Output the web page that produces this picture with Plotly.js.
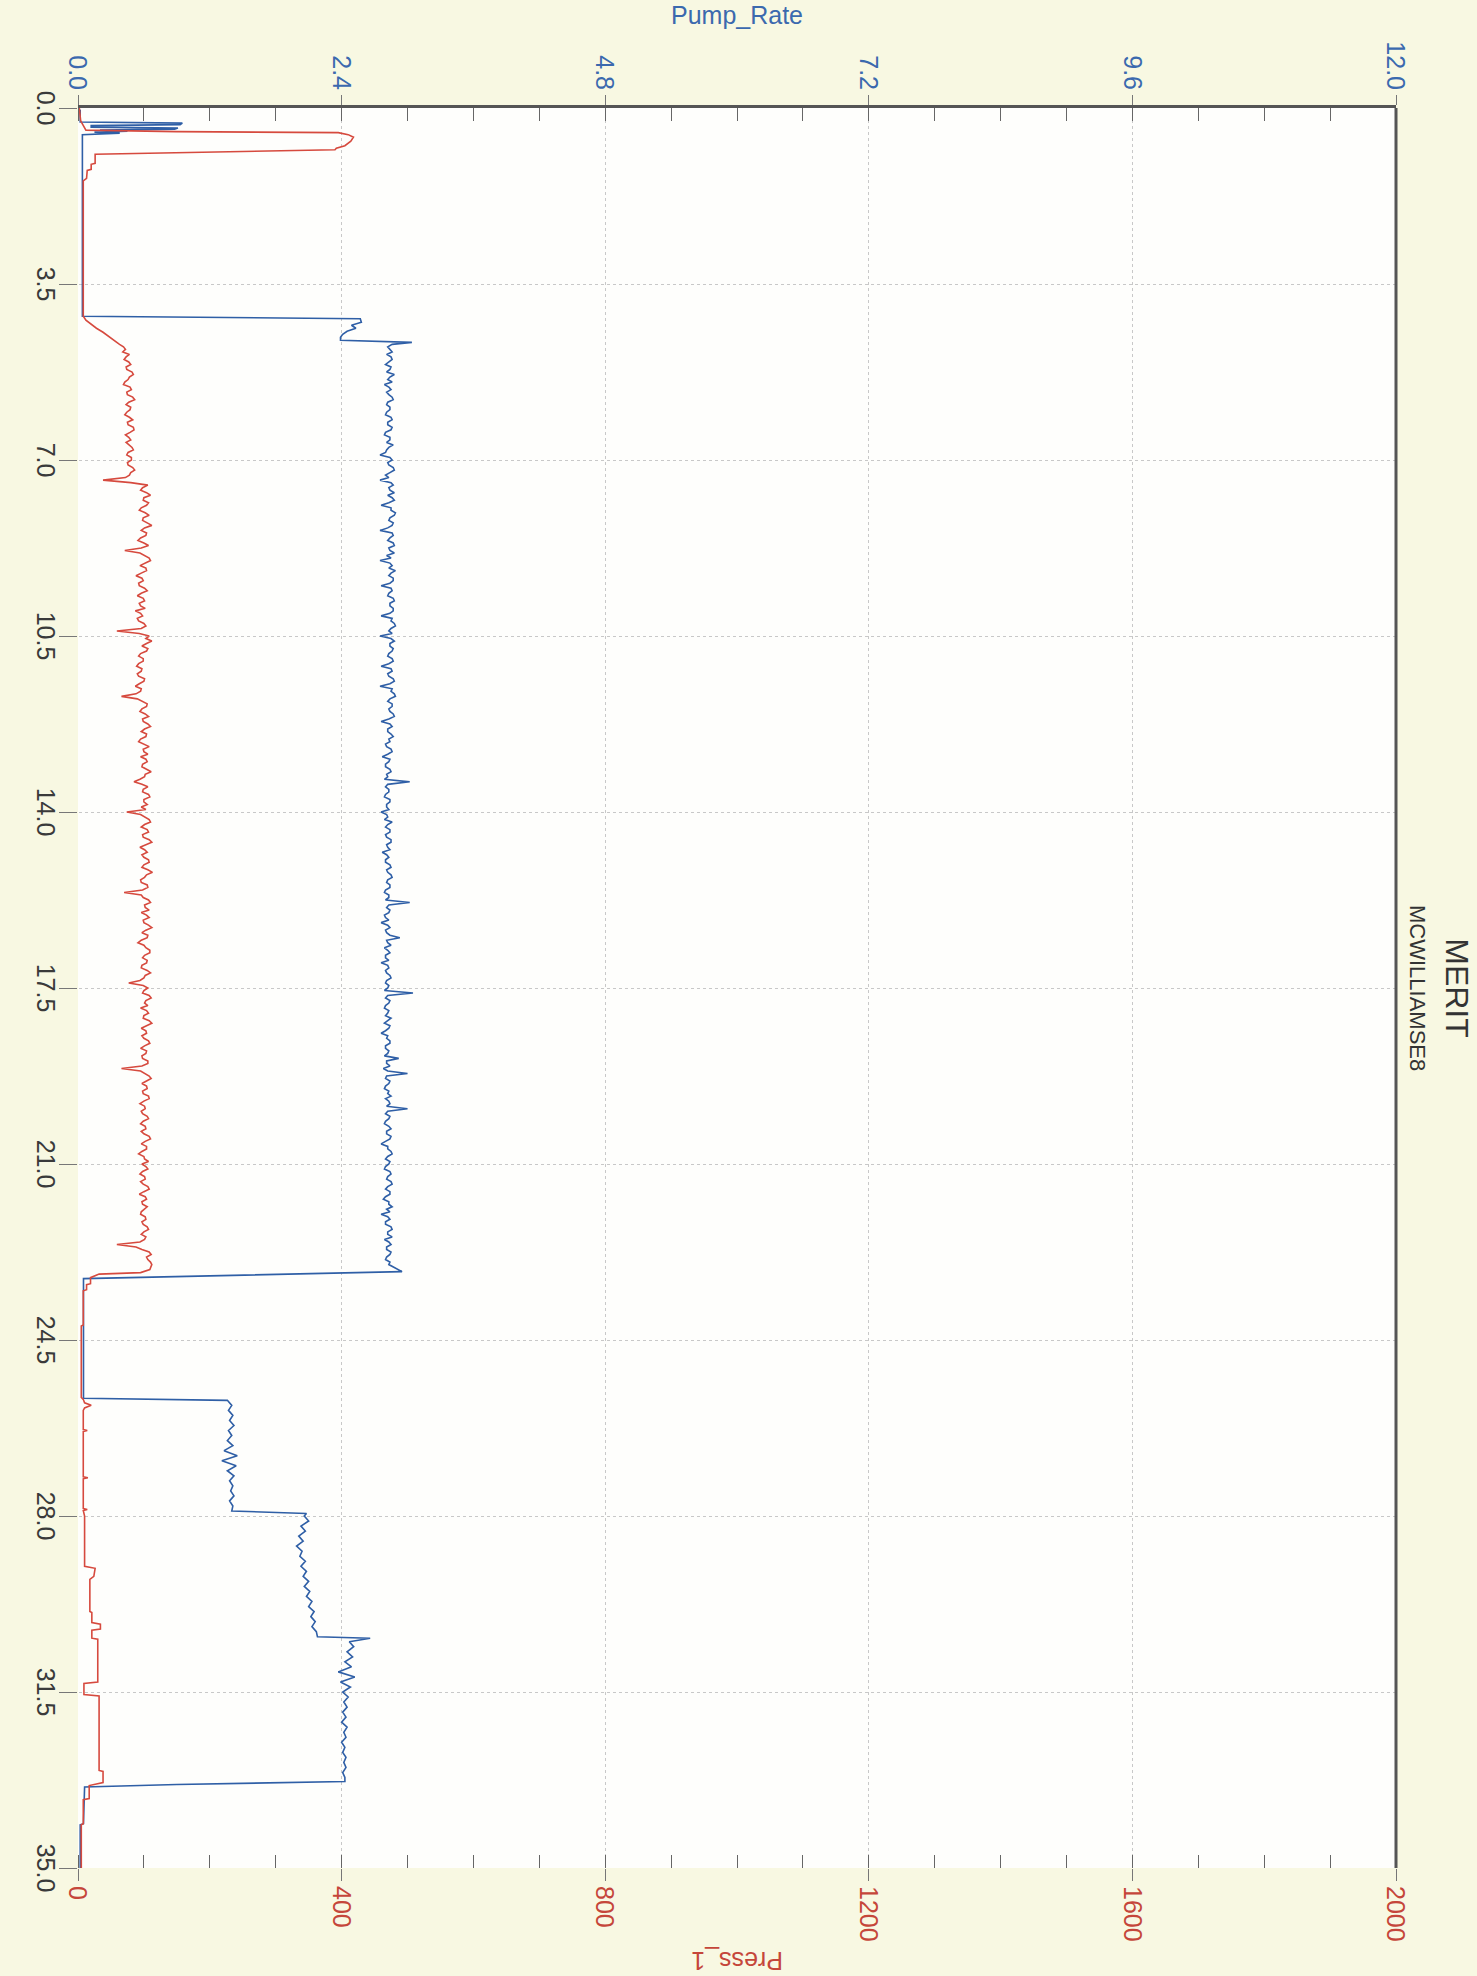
<!DOCTYPE html>
<html>
<head>
<meta charset="utf-8">
<script src="https://cdn.plot.ly/plotly-3.0.1.min.js"></script>
<style>
  html, body { margin:0; padding:0; width:1477px; height:1976px; overflow:hidden; background:#f8f8e2; }
  #wrap { position:absolute; left:0; top:0; width:1976px; height:1477px;
          transform-origin:0 0; transform:translate(1477px,0) rotate(90deg); }
</style>
</head>
<body>
<div id="wrap"><div id="chart"></div></div>
<script>
// ---------------- data ----------------
const timeTicks = [0,3.5,7,10.5,14,17.5,21,24.5,28,31.5,35];
const pumpTicks = [0,2.4,4.8,7.2,9.6,12];
const pressTicks = [0,400,800,1200,1600,2000];

// sampling grid of the long pumping stage (hours)
const gridTime = [4.80,4.85,4.90,4.95,
 5.00,5.05,5.10,5.15,5.20,5.25,5.30,5.35,5.40,5.45,5.50,5.55,5.60,5.65,5.70,5.75,5.80,5.85,5.90,5.95,
 6.00,6.05,6.10,6.15,6.20,6.25,6.30,6.35,6.40,6.45,6.50,6.55,6.60,6.65,6.70,6.75,6.80,6.85,6.90,6.95,
 7.00,7.05,7.10,7.15,7.20,7.25,7.30,7.35,7.40,7.45,7.50,7.55,7.60,7.65,7.70,7.75,7.80,7.85,7.90,7.95,
 8.00,8.05,8.10,8.15,8.20,8.25,8.30,8.35,8.40,8.45,8.50,8.55,8.60,8.65,8.70,8.75,8.80,8.85,8.90,8.95,
 9.00,9.05,9.10,9.15,9.20,9.25,9.30,9.35,9.40,9.45,9.50,9.55,9.60,9.65,9.70,9.75,9.80,9.85,9.90,9.95,
 10.00,10.05,10.10,10.15,10.20,10.25,10.30,10.35,10.40,10.45,10.50,10.55,10.60,10.65,10.70,10.75,10.80,10.85,10.90,10.95,
 11.00,11.05,11.10,11.15,11.20,11.25,11.30,11.35,11.40,11.45,11.50,11.55,11.60,11.65,11.70,11.75,11.80,11.85,11.90,11.95,
 12.00,12.05,12.10,12.15,12.20,12.25,12.30,12.35,12.40,12.45,12.50,12.55,12.60,12.65,12.70,12.75,12.80,12.85,12.90,12.95,
 13.00,13.05,13.10,13.15,13.20,13.25,13.30,13.35,13.40,13.45,13.50,13.55,13.60,13.65,13.70,13.75,13.80,13.85,13.90,13.95,
 14.00,14.05,14.10,14.15,14.20,14.25,14.30,14.35,14.40,14.45,14.50,14.55,14.60,14.65,14.70,14.75,14.80,14.85,14.90,14.95,
 15.00,15.05,15.10,15.15,15.20,15.25,15.30,15.35,15.40,15.45,15.50,15.55,15.60,15.65,15.70,15.75,15.80,15.85,15.90,15.95,
 16.00,16.05,16.10,16.15,16.20,16.25,16.30,16.35,16.40,16.45,16.50,16.55,16.60,16.65,16.70,16.75,16.80,16.85,16.90,16.95,
 17.00,17.05,17.10,17.15,17.20,17.25,17.30,17.35,17.40,17.45,17.50,17.55,17.60,17.65,17.70,17.75,17.80,17.85,17.90,17.95,
 18.00,18.05,18.10,18.15,18.20,18.25,18.30,18.35,18.40,18.45,18.50,18.55,18.60,18.65,18.70,18.75,18.80,18.85,18.90,18.95,
 19.00,19.05,19.10,19.15,19.20,19.25,19.30,19.35,19.40,19.45,19.50,19.55,19.60,19.65,19.70,19.75,19.80,19.85,19.90,19.95,
 20.00,20.05,20.10,20.15,20.20,20.25,20.30,20.35,20.40,20.45,20.50,20.55,20.60,20.65,20.70,20.75,20.80,20.85,20.90,20.95,
 21.00,21.05,21.10,21.15,21.20,21.25,21.30,21.35,21.40,21.45,21.50,21.55,21.60,21.65,21.70,21.75,21.80,21.85,21.90,21.95,
 22.00,22.05,22.10,22.15,22.20,22.25,22.30,22.35,22.40,22.45,22.50,22.55,22.60,22.65,22.70,22.75,22.80,22.85,22.90,22.95,
 23.00];

// Pump_Rate (blue)
const pumpHeadTime = [0,0.05,0.28,0.30,0.33,0.35,0.38,0.40,0.42,0.44,0.46,0.48,0.50,0.53,0.56,4.14,4.19,4.26,4.32,4.38,4.44,4.50,4.56,4.62,4.66,4.70,4.75];
const pumpHead     = [0.00,0.02,0.02,0.95,0.93,0.12,0.12,0.91,0.88,0.20,0.45,0.15,0.38,0.04,0.04,0.04,2.57,2.58,2.49,2.53,2.45,2.41,2.39,2.39,3.04,2.86,2.82];
const pumpMain = [2.84,2.86,2.81,2.85,
 2.86,2.83,2.80,2.85,2.84,2.81,2.88,2.84,2.82,2.86,2.79,2.83,2.85,2.81,2.83,2.86,2.87,2.82,2.81,2.84,
 2.84,2.81,2.80,2.85,2.86,2.82,2.82,2.86,2.85,2.80,2.79,2.84,2.84,2.81,2.87,2.83,2.81,2.80,2.75,2.84,
 2.86,2.82,2.83,2.87,2.88,2.84,2.80,2.83,2.75,2.85,2.87,2.83,2.84,2.88,2.82,2.86,2.88,2.83,2.76,2.85,
 2.85,2.89,2.88,2.84,2.83,2.87,2.86,2.82,2.75,2.86,2.87,2.84,2.82,2.87,2.88,2.83,2.84,2.88,2.81,2.85,
 2.75,2.84,2.86,2.83,2.89,2.85,2.83,2.87,2.87,2.84,2.76,2.85,2.86,2.83,2.82,2.87,2.88,2.84,2.84,2.87,
 2.87,2.84,2.76,2.86,2.85,2.88,2.89,2.85,2.83,2.86,2.75,2.85,2.88,2.84,2.84,2.87,2.86,2.83,2.82,2.86,
 2.87,2.83,2.76,2.85,2.86,2.82,2.83,2.87,2.88,2.84,2.75,2.86,2.85,2.88,2.89,2.84,2.82,2.86,2.86,2.83,
 2.84,2.87,2.88,2.83,2.76,2.84,2.86,2.82,2.82,2.85,2.87,2.83,2.84,2.80,2.81,2.85,2.86,2.82,2.77,2.84,
 2.83,2.80,2.80,2.84,2.85,2.81,2.82,2.79,3.02,2.82,2.80,2.83,2.83,2.80,2.79,2.84,2.84,2.81,2.81,2.83,
 2.76,2.81,2.82,2.79,2.86,2.82,2.80,2.84,2.84,2.80,2.81,2.85,2.85,2.81,2.82,2.84,2.77,2.81,2.83,2.80,
 2.80,2.84,2.85,2.81,2.82,2.85,2.86,2.82,2.81,2.84,2.84,2.80,2.79,2.83,2.83,2.80,3.02,2.83,2.81,2.84,
 2.83,2.79,2.80,2.83,2.76,2.82,2.84,2.80,2.81,2.84,2.93,2.81,2.82,2.85,2.79,2.82,2.84,2.80,2.80,2.83,
 2.76,2.82,2.83,2.80,2.81,2.84,2.85,2.81,2.80,2.83,2.82,2.79,3.05,2.82,2.80,2.84,2.83,2.80,2.79,2.83,
 2.82,2.80,2.85,2.82,2.79,2.84,2.83,2.80,2.76,2.82,2.81,2.84,2.84,2.80,2.80,2.83,2.82,2.79,2.92,2.81,
 2.81,2.84,2.78,2.82,3.00,2.81,2.80,2.84,2.83,2.80,2.79,2.83,2.82,2.85,2.80,2.83,2.84,2.81,3.00,2.82,
 2.80,2.84,2.83,2.80,2.79,2.83,2.85,2.81,2.81,2.85,2.84,2.80,2.76,2.82,2.82,2.85,2.86,2.82,2.80,2.84,
 2.83,2.80,2.79,2.84,2.85,2.82,2.81,2.85,2.86,2.82,2.80,2.84,2.84,2.80,2.78,2.83,2.83,2.86,2.81,2.84,
 2.76,2.82,2.84,2.80,2.80,2.85,2.86,2.82,2.82,2.86,2.79,2.83,2.85,2.81,2.81,2.85,2.84,2.81,2.80,2.84,
 2.83];
const pumpTailTime = [23.14,23.28,25.66,25.70,
 25.8,25.9,26.0,26.1,26.2,26.3,26.4,26.5,26.6,26.7,26.8,26.9,27.0,27.1,27.2,27.3,27.4,27.5,27.6,27.7,27.8,27.9,
 27.95,
 28.0,28.1,28.2,28.3,28.4,28.5,28.6,28.7,28.8,28.9,29.0,29.1,29.2,29.3,29.4,29.5,29.6,29.7,29.8,29.9,30.0,30.1,30.2,30.3,30.4,
 30.43,
 30.5,30.6,30.7,30.8,30.9,31.0,31.1,31.2,31.3,31.4,31.5,31.6,31.7,31.8,31.9,32.0,32.1,32.2,32.3,32.4,32.5,32.6,32.7,32.8,32.9,33.0,33.1,33.2,
 33.28,33.34,33.39,34.12,34.14,35.0];
const pumpTail = [2.95,0.05,0.05,1.36,
 1.40,1.37,1.41,1.38,1.42,1.37,1.40,1.36,1.41,1.33,1.45,1.31,1.44,1.36,1.42,1.38,1.41,1.39,1.42,1.38,1.41,1.40,
 2.08,
 2.06,2.10,2.03,2.07,2.01,2.05,1.99,2.04,2.02,2.07,2.03,2.08,2.05,2.10,2.06,2.11,2.08,2.13,2.10,2.15,2.12,2.16,2.13,2.17,2.18,
 2.66,
 2.47,2.51,2.45,2.50,2.43,2.49,2.37,2.52,2.39,2.48,2.41,2.46,2.42,2.45,2.41,2.44,2.40,2.45,2.42,2.44,2.40,2.43,2.41,2.44,2.42,2.44,2.41,2.43,
 2.43,0.90,0.06,0.05,0.02,0.02];

// Press_1 (red)
const pressHeadTime = [0,0.25,0.30,0.40,0.44,0.47,0.49,0.53,0.58,0.66,0.75,0.80,0.83,0.92,1.10,1.12,1.22,1.24,1.40,1.45,4.14,4.22,4.30,4.38,4.46,4.54,4.62,4.70,4.75];
const pressHead     = [2,4,6,10,12,150,395,410,418,414,405,392,390,26,26,20,20,14,13,8,8,12,20,28,38,46,54,63,69];
const pressMain = [72,68,78,73,
 70,77,80,73,74,82,84,78,76,71,69,79,81,74,75,83,86,77,73,80,
 79,74,71,78,83,75,76,84,85,79,72,77,80,73,77,82,84,76,74,81,
 81,75,76,83,86,80,78,72,38,80,106,98,95,104,110,100,99,107,104,96,
 93,102,108,99,98,106,112,101,96,104,103,95,91,100,107,96,71,94,100,108,
 110,101,94,103,104,96,88,97,99,92,93,101,105,96,90,99,101,93,95,102,
 87,95,98,90,92,100,103,96,59,93,108,103,112,104,97,106,104,95,92,99,
 99,92,89,97,96,90,92,101,100,93,87,96,95,88,66,90,98,105,104,97,
 94,102,107,98,99,106,110,101,96,104,103,95,92,101,108,99,100,106,95,103,
 105,98,97,104,111,102,101,94,85,97,106,99,98,107,109,100,100,105,96,103,
 74,95,102,108,110,101,96,105,107,98,99,108,112,103,94,101,105,97,100,107,
 108,100,97,106,113,104,101,95,96,105,106,98,70,96,99,107,110,101,102,108,
 96,104,108,99,100,107,112,103,97,106,105,96,91,100,103,109,109,101,98,105,
 104,97,96,105,110,102,100,94,77,99,106,100,98,108,111,103,101,106,95,104,
 107,100,99,108,112,104,96,103,104,97,100,107,109,101,95,104,103,97,98,106,
 106,97,66,95,101,108,111,103,97,104,105,98,99,107,108,100,94,101,102,96,
 98,105,107,99,95,102,103,96,100,108,110,102,96,104,104,97,92,100,101,107,
 97,103,106,98,94,101,102,95,99,106,108,100,93,102,104,97,98,105,101,96,
 95,102,103,97,99,105,107,100,96,103,101,94,59,88,97,108,111,104,106,110,
 112];
const pressTailTime = [23.10,23.16,23.19,23.26,23.38,23.40,23.50,23.52,24.20,24.22,25.64,25.68,25.75,25.80,25.85,25.90,
 26.28,26.30,26.32,27.22,27.24,27.26,27.85,27.87,27.89,28.00,29.00,29.04,29.20,29.26,29.90,29.92,30.12,30.15,30.25,30.27,
 30.43,30.45,31.30,31.33,31.55,31.58,33.06,33.08,33.30,33.36,33.62,33.64,34.12,34.14,35.00];
const pressTail = [109,95,32,19,19,13,13,8,8,5,5,8,10,20,10,8,
 8,14,8,8,15,8,8,14,8,10,10,26,24,18,18,21,21,34,34,21,
 21,30,30,9,9,32,32,38,38,17,17,8,8,5,5];

const pumpTime = pumpHeadTime.concat(gridTime, pumpTailTime);
const pumpRate = pumpHead.concat(pumpMain, pumpTail);
const pressTime = pressHeadTime.concat(gridTime, pressTailTime);
const press1 = pressHead.concat(pressMain, pressTail);

// ---------------- chart ----------------
const BLUE = '#2f5fa6', RED = '#d64a3e';
const BLUE_TXT = '#3b69ae', RED_TXT = '#c5463a';
const FONT = 'Liberation Sans, Arial, Helvetica, sans-serif';

const traces = [
  { x: pressTime, y: press1, type:'scatter', mode:'lines', name:'Press_1', yaxis:'y2',
    line:{color:RED, width:1.6} },
  { x: pumpTime, y: pumpRate, type:'scatter', mode:'lines', name:'Pump_Rate', yaxis:'y',
    line:{color:BLUE, width:1.6} }
];

const grid = {showgrid:true, gridcolor:'#c8c8c8', griddash:'dot', gridwidth:1};

const layout = {
  width:1976, height:1477,
  margin:{l:108, r:108, t:81, b:78, pad:0},
  paper_bgcolor:'#f8f8e2', plot_bgcolor:'#fefefc',
  font:{family:FONT, size:25, color:'#333'},
  showlegend:false,
  title:{text:'MERIT', font:{family:FONT, size:32, color:'#333'}, x:0.5, xanchor:'center', xref:'container',
         y:1-20/1477, yanchor:'middle', yref:'container'},
  xaxis: Object.assign({
    range:[0,35], tickvals:timeTicks, tickformat:'.1f', ticks:'outside', ticklen:18, tickwidth:1, tickcolor:'#777',
    ticklabelstandoff:-8,
    showline:false, zeroline:false, tickfont:{family:FONT, size:25, color:'#3a3a3a'}
  }, grid),
  yaxis: Object.assign({
    range:[0,12], tickvals:pumpTicks, tickformat:'.1f', ticks:'outside', ticklen:10, tickwidth:1, tickcolor:'#777',
    minor:{ticks:'inside', dtick:0.6, ticklen:13, tickwidth:1, tickcolor:'#666', showgrid:false},
    showline:true, linecolor:'#555', linewidth:3, zeroline:false,
    tickfont:{family:FONT, size:25, color:BLUE_TXT},
    title:{text:'Pump_Rate', font:{family:FONT, size:25, color:BLUE_TXT}, standoff:10}
  }, grid),
  yaxis2: {
    overlaying:'y', side:'right', range:[0,2000], tickvals:pressTicks, ticks:'outside', ticklen:12, tickwidth:1, tickcolor:'#777',
    minor:{ticks:'inside', dtick:100, ticklen:13, tickwidth:1, tickcolor:'#666', showgrid:false},
    showline:false, zeroline:false, showgrid:false,
    tickfont:{family:FONT, size:25, color:RED_TXT}
  },
  shapes:[
    {type:'line', xref:'paper', yref:'paper', x0:0, x1:1, y0:1, y1:1, line:{color:'#555', width:3}}
  ],
  annotations:[
    {text:'MCWILLIAMSE8', xref:'paper', yref:'paper', x:0.5, y:1+(81-59)/1318, xanchor:'center', yanchor:'middle',
     showarrow:false, font:{family:FONT, size:22, color:'#333'}},
    {text:'Press_1', xref:'paper', yref:'paper', x:1+(1961-1868)/1760, y:0.5, xanchor:'center', yanchor:'middle',
     textangle:90, showarrow:false, font:{family:FONT, size:25, color:RED_TXT}}
  ]
};

Plotly.newPlot('chart', traces, layout, {displayModeBar:false, staticPlot:true});
</script>
</body>
</html>
